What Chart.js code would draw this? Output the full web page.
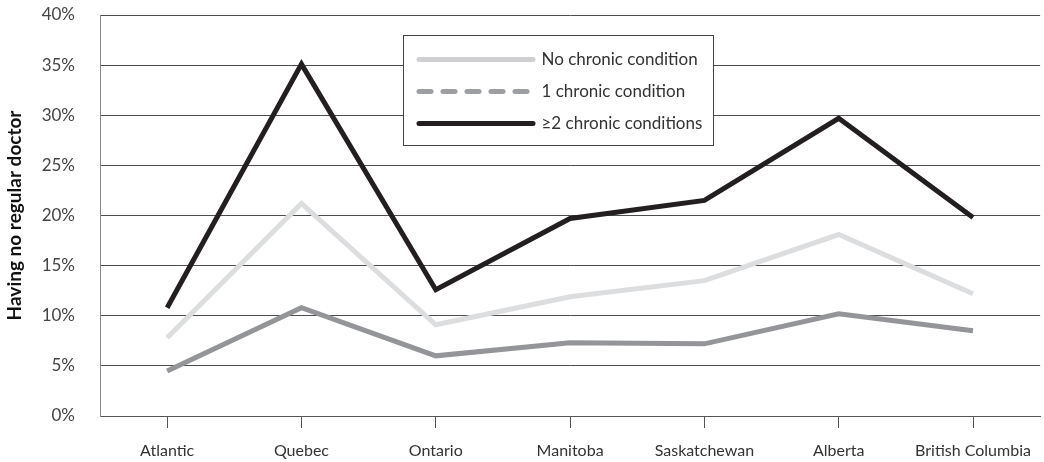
<!DOCTYPE html>
<html>
<head>
<meta charset="utf-8">
<title>Having no regular doctor</title>
<script src="https://cdn.jsdelivr.net/npm/chart.js@4.4.1/dist/chart.umd.min.js"></script>
<style>
  html, body { margin: 0; padding: 0; background: #fff; }
  #wrap { position: relative; width: 1044px; height: 462px; }
</style>
</head>
<body>
<div id="wrap"><canvas id="chart"></canvas></div>
<script>
// provinces on the x axis
const provinces = ['Atlantic', 'Quebec', 'Ontario', 'Manitoba', 'Saskatchewan', 'Alberta', 'British Columbia'];

// % having no regular doctor
const noChronic  = [7.8, 21.2, 9.1, 11.9, 13.5, 18.1, 12.2];
const oneChronic = [4.5, 10.8, 6.0, 7.3, 7.2, 10.2, 8.5];
const twoPlus    = [10.8, 35.1, 12.6, 19.7, 21.5, 29.7, 19.8];

const seriesNames = ['No chronic condition', '1 chronic condition', '\u22652 chronic conditions'];
const yTicks = [0, 5, 10, 15, 20, 25, 30, 35, 40];

const FONT = 'Lato, "Open Sans", sans-serif';

// legend sits in a white framed box inside the plot
const legendBox = {
  id: 'legendBox',
  beforeDraw(chart){
    const lg = chart.legend;
    if(!lg) return;
    lg.left = 404; lg.top = 36;
    lg.right = lg.left + lg.width; lg.bottom = lg.top + lg.height;
  },
  beforeDatasetsDraw(chart){
    const lg = chart.legend;
    if(!lg) return;
    const ctx = chart.ctx;
    ctx.save();
    ctx.fillStyle = '#fff';
    ctx.fillRect(403, 35, 311, 111);
    ctx.strokeStyle = '#444';
    ctx.lineWidth = 1;
    ctx.strokeRect(403.5, 35.5, 310, 110);
    ctx.restore();
    lg.draw();
  }
};

function lineSet(label, data, color){
  return {
    label, data,
    borderColor: color, backgroundColor: color,
    borderWidth: 5, pointRadius: 0, tension: 0,
    borderJoinStyle: 'miter', borderCapStyle: 'butt', fill: false
  };
}

new Chart(document.getElementById('chart'), {
  type: 'line',
  data: {
    labels: provinces,
    datasets: [
      lineSet(seriesNames[0], noChronic, '#dcdddf'),
      lineSet(seriesNames[1], oneChronic, '#939598'),
      lineSet(seriesNames[2], twoPlus, '#231f20')
    ]
  },
  options: {
    responsive: true,
    maintainAspectRatio: false,
    animation: false,
    layout: { padding: { top: 15, right: 1, left: 0, bottom: 0 } },
    plugins: {
      tooltip: { enabled: false },
      legend: {
        position: 'chartArea',
        fullSize: false,
        align: 'start',
        labels: {
          usePointStyle: true,
          pointStyle: 'line',
          pointStyleWidth: 114,
          padding: 15,
          color: '#333',
          font: { family: FONT, size: 17 },
          generateLabels(chart){
            const items = Chart.defaults.plugins.legend.labels.generateLabels(chart);
            const legendColors = ['#cfcfd1', '#9d9ea1', '#231f20'];
            items.forEach((it, i) => {
              it.strokeStyle = legendColors[i];
              it.fillStyle = legendColors[i];
              it.lineWidth = 5;
              it.lineCap = 'round';
              it.lineDash = i === 1 ? [12, 12] : [];
            });
            return items;
          }
        }
      }
    },
    scales: {
      x: {
        offset: true,
        grid: { display: true, drawOnChartArea: false, drawTicks: true, tickLength: 12, color: '#555', lineWidth: 1 },
        border: { display: true, color: '#555' },
        ticks: { color: '#333', padding: 13, font: { family: FONT, size: 16 }, maxRotation: 0, autoSkip: false },
        afterFit(s){ s.height = 46; }
      },
      y: {
        min: 0, max: 40,
        afterBuildTicks(s){ s.ticks = yTicks.map(v => ({ value: v })); },
        grid: { color: '#4d4d4d', lineWidth: 1, drawTicks: false },
        border: { display: true, color: '#888' },
        ticks: { color: '#444', padding: 25, font: { family: FONT, size: 17 }, callback: v => v + '%' },
        title: {
          display: true,
          text: 'Having no regular doctor',
          color: '#111',
          font: { family: FONT, size: 19, weight: 'bold' },
          padding: { top: 3, bottom: 0 }
        },
        afterFit(s){ s.width = 100; s.paddingTop = 0; s.paddingBottom = 0; }
      }
    }
  },
  plugins: [legendBox]
});
</script>
</body>
</html>
